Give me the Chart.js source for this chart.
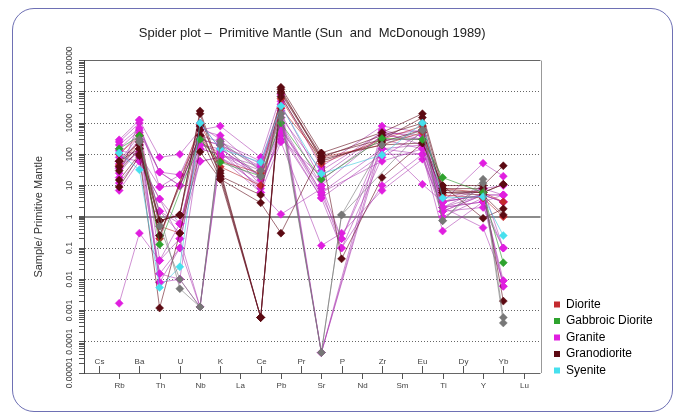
<!DOCTYPE html>
<html>
<head>
<meta charset="utf-8">
<script src="https://cdn.jsdelivr.net/npm/chart.js@4.4.1/dist/chart.umd.min.js"></script>
<style>
  html, body { margin: 0; padding: 0; background: #fff; }
  #wrap { position: relative; width: 681px; height: 416px; }
  #frame { position: absolute; left: 12px; top: 8px; width: 661px; height: 404px; box-sizing: border-box;
           border: 1.5px solid #6e70b4; border-radius: 22px; }
  #chart { position: absolute; left: 0; top: 0; }
</style>
</head>
<body>
<div id="wrap">
  <div id="frame"></div>
  <canvas id="chart" width="681" height="416"></canvas>
</div>
<script>
// x axis order of the spider diagram
const elements = ['Cs', 'Rb', 'Ba', 'Th', 'U', 'Nb', 'K', 'La', 'Ce', 'Pb', 'Pr', 'Sr', 'P', 'Nd', 'Zr', 'Sm', 'Eu', 'Ti', 'Dy', 'Y', 'Yb', 'Lu'];
// elements that were analysed; each sample row below follows this order
const analysed = ['Rb', 'Ba', 'Th', 'U', 'Nb', 'K', 'Ce', 'Pb', 'Sr', 'P', 'Zr', 'Eu', 'Ti', 'Y', 'Yb'];

// sample / primitive mantle, null = not determined
const diorite = [
  [100, 400, 0.5, 0.3, 400, 40, 10, 3000, 80, null, 200, 500, 8, 6, 3],
  [45, 250, 0.2, null, 900, 60, 25, 6000, 50, null, 300, 800, 5, 4, 1]
];
const gabbroicDiorite = [
  [150, 390, 0.13, null, 300, 56, 20, 1000, 16, null, 320, 300, 18, 6, 0.034]
];
const granite = [
  [290, 1250, 80, 100, 600, 800, 80, 8000, 40, null, 800, 500, 3, 52, 20],
  [200, 700, 27, 22, 300, 200, 40, 2000, 10, null, 400, 300, 2, 8, 5],
  [130, 100, 9, 10, 150, 100, 20, 1000, 6, null, 60, 150, 1.5, 5, 3],
  [80, 60, 3.7, 0.6, 60, 80, 10, 500, 4, 0.1, 10, 100, 0.35, 3, 0.1],
  [0.0017, 0.3, 0.04, 0.2, 0.0013, 200, 6, 250, 0.12, 0.3, 7, 70, 2, 0.45, 0.009],
  [50, 300, 0.015, 0.01, 0.0013, 100, 30, 3000, 0.000045, null, 200, 11, 3, 5, 0.006],
  [35, 200, 0.008, 0.1, 1000, 150, 20, 600, 10, 0.2, 300, 150, 2, 3, 5],
  [25, 150, 1.5, 0.3, 800, 300, 10, 400, 4, null, 100, 100, 1.5, 5, 3],
  [18, 1250, 0.04, 0.6, 150, 100, 40, 5000, 0.000045, null, 600, 300, 4, 8, 0.1],
  [12, 80, 0.015, 0.1, 0.0013, 80, 15, 300, 20, null, 500, 200, 3, 5, 5],
  [7, 60, 3.7, 0.2, 60, 80, 6, 1.2, 8, 0.1, 80, 500, 2, 3, 0.006],
  [250, 1000, 9, 22, 600, 400, 30, 1500, 30, null, 500, 400, 3, 8, 10],
  [100, 500, 27, 10, 300, 200, 50, 2500, 0.000045, null, 300, 300, 2, 5, 3],
  [60, 400, 0.008, 0.01, 200, 150, 20, 800, 6, null, 150, 100, 1, 4, 0.009],
  [150, 600, 27, 10, 400, 250, 60, 4000, 15, null, 400, 600, 3, 5, 5],
  [40, 120, 1.5, 0.6, 200, 120, 8, 700, 5, 0.2, 150, 200, 1.5, 2, 0.1]
];
const granodiorite = [
  [60, 250, 0.75, 1.15, 2450, 30, 0.0006, 14000, 110, null, 500, 2000, 10, 10, 43],
  [30, 150, 0.25, null, 400, 16, 0.0006, 12000, 70, null, 200, 230, 6, 6, 11],
  [9, 90, 0.0012, 0.3, 120, 16, 2.8, 0.3, 110, 0.045, 18, 230, 10, 0.9, 1.8],
  [60, 150, 0.75, 1.15, 2000, 20, 0.0006, 10000, 90, null, 300, 1500, 8, 8, 0.002],
  [40, 200, 0.25, null, 600, 25, 0.0006, 9000, 80, null, 400, 1000, 6, 5, 1.15],
  [15, 100, 0.75, 1.15, 800, 20, 5, 7000, 60, null, 250, 600, 7, 6, 11]
];
const syenite = [
  [110, 32, 0.0055, 0.025, 1000, 150, 56, 3500, 24, null, 95, 1000, 4, 4.4, 0.25]
];
const unassigned = [
  [null, 300, null, 0.005, 0.0013, 260, 30, 2000, 0.000045, 1.15, null, 600, 0.75, 16, 0.0006],
  [null, 250, 0.5, 0.01, 0.0013, 200, 20, 1500, 0.000045, 1.15, 200, 600, 0.75, 12, 0.0004]
];

// lower order is painted last (on top)
const groups = [
  { name: 'Diorite', marker: '#c42a2f', line: 'rgba(185,40,45,0.6)', order: 4, samples: diorite },
  { name: 'Gabbroic Diorite', marker: '#2ea32e', line: 'rgba(40,150,40,0.6)', order: 2, samples: gabbroicDiorite },
  { name: 'Granite', marker: '#e01ee0', line: 'rgba(170,55,175,0.55)', order: 5, samples: granite },
  { name: 'Granodiorite', marker: '#5c0a12', line: 'rgba(100,15,30,0.6)', order: 3, samples: granodiorite },
  { name: 'Syenite', marker: '#46e0ee', line: 'rgba(60,200,220,0.6)', order: 1, samples: syenite },
  { name: null, marker: '#777777', line: 'rgba(120,120,120,0.6)', order: 0, samples: unassigned }
];

const toPoints = (row) => analysed
  .map((el, k) => (row[k] == null ? null : { x: elements.indexOf(el), y: row[k] }))
  .filter(Boolean);

const datasets = [];
groups.forEach((g) => {
  g.samples.forEach((row) => {
    datasets.push({
      label: g.name || '',
      data: toPoints(row),
      order: g.order,
      borderColor: g.line,
      borderWidth: 1,
      backgroundColor: g.marker,
      pointBackgroundColor: g.marker,
      pointBorderColor: g.marker,
      pointBorderWidth: 0.5,
      pointStyle: 'rectRot',
      pointRadius: 4,
      tension: 0
    });
  });
});

const isDecade = (v) => {
  const e = Math.round(Math.log10(v));
  return Math.abs(v / Math.pow(10, e) - 1) < 1e-9;
};
const decadeLabel = (v) => {
  const e = Math.round(Math.log10(v));
  return e >= 0 ? String(Math.pow(10, e)) : Math.pow(10, e).toFixed(-e);
};

// element names alternate above and below the base line
const elementLabels = {
  id: 'elementLabels',
  afterDraw(chart) {
    const { ctx, chartArea } = chart;
    const xs = chart.scales.x;
    const base = chartArea.bottom;
    ctx.save();
    ctx.strokeStyle = '#555';
    ctx.lineWidth = 1;
    ctx.fillStyle = '#444';
    ctx.font = '8px "Liberation Sans", Arial, sans-serif';
    ctx.textAlign = 'center';
    ctx.textBaseline = 'middle';
    elements.forEach((el, i) => {
      const px = Math.round(xs.getPixelForValue(i)) + 0.5;
      const up = i % 2 === 0;
      ctx.beginPath();
      ctx.moveTo(px, base);
      ctx.lineTo(px, up ? base - 7 : base + 6);
      ctx.stroke();
      ctx.fillText(el, px, up ? base - 11 : base + 13);
    });
    ctx.restore();
  }
};

// right-hand edge of the plot box
const plotFrame = {
  id: 'plotFrame',
  beforeDatasetsDraw(chart) {
    const { ctx, chartArea } = chart;
    ctx.save();
    ctx.strokeStyle = '#999';
    ctx.lineWidth = 1;
    ctx.beginPath();
    ctx.moveTo(Math.round(chartArea.right) + 0.5, chartArea.top);
    ctx.lineTo(Math.round(chartArea.right) + 0.5, chartArea.bottom);
    ctx.stroke();
    ctx.restore();
  }
};

Chart.defaults.font.family = '"Liberation Sans", Arial, sans-serif';
Chart.defaults.color = '#333';

new Chart(document.getElementById('chart'), {
  type: 'line',
  data: { datasets },
  options: {
    responsive: false,
    animation: false,
    devicePixelRatio: 1,
    layout: { padding: { left: 32, top: 20, right: 28, bottom: 35 } },
    scales: {
      x: {
        type: 'linear',
        min: -0.74,
        max: 21.84,
        ticks: { display: false },
        grid: { display: false },
        border: { display: false }
      },
      y: {
        type: 'logarithmic',
        min: 1e-5,
        max: 1e5,
        afterBuildTicks: (scale) => {
          const ticks = [];
          for (let e = -5; e <= 5; e++) {
            for (let k = 1; k <= 9; k++) {
              if (e === 5 && k > 1) break;
              ticks.push({ value: parseFloat(k + 'e' + e) });
            }
          }
          scale.ticks = ticks;
        },
        afterFit: (scale) => { scale.width = 52; },
        ticks: {
          autoSkip: false,
          minRotation: 90,
          maxRotation: 90,
          crossAlign: 'center',
          padding: -6,
          color: '#444',
          font: { size: 8.5 },
          callback: (v) => (isDecade(v) ? decadeLabel(v) : '')
        },
        grid: {
          color: (ctx) => {
            if (!ctx.tick || !isDecade(ctx.tick.value)) return 'transparent';
            return ctx.tick.value === 1 ? '#8c8c8c' : '#666';
          },
          lineWidth: (ctx) => (ctx.tick && ctx.tick.value === 1 ? 2 : 1),
          tickColor: '#555',
          tickLength: 5
        },
        border: {
          color: '#444',
          width: 1,
          dash: (ctx) => {
            if (!ctx.tick) return [];
            const v = ctx.tick.value;
            return (v === 1 || v === 1e5 || v === 1e-5) ? [] : [1, 2];
          }
        },
        title: {
          display: true,
          text: 'Sample/ Primitive Mantle',
          color: '#333',
          font: { size: 11 },
          padding: { top: 0, bottom: 0 }
        }
      },
      gap: {
        type: 'linear',
        position: 'right',
        ticks: { display: false },
        grid: { display: false, drawTicks: false },
        border: { display: false },
        afterFit: (scale) => { scale.width = 9; }
      }
    },
    plugins: {
      title: {
        display: true,
        text: 'Spider plot –  Primitive Mantle (Sun  and  McDonough 1989)',
        fullSize: false,
        color: '#222',
        font: { size: 13, weight: 'normal' },
        padding: { top: 6, bottom: 19 }
      },
      legend: {
        position: 'right',
        align: 'end',
        maxHeight: 310,
        labels: {
          boxWidth: 6,
          boxHeight: 6,
          padding: 4.5,
          color: '#222',
          font: { size: 12 },
          generateLabels: () => groups.filter((g) => g.name).map((g) => ({
            text: g.name,
            fillStyle: g.marker,
            strokeStyle: g.marker,
            lineWidth: 0,
            hidden: false
          }))
        }
      },
      tooltip: { enabled: false }
    }
  },
  plugins: [plotFrame, elementLabels]
});
</script>
</body>
</html>
